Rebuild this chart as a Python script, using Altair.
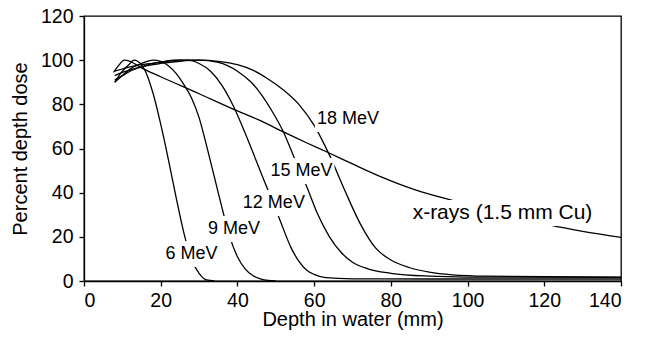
import altair as alt
import pandas as pd

# ---- data ----
xray_x = [7.7, 9, 10.5, 12, 15, 20, 30, 40, 46, 52, 58, 63.5, 70, 77, 86, 96, 110, 121.6, 130, 140]
xray_y = [94.5, 97.5, 100, 99.5, 96.5, 92.5, 84.8, 77, 72.6, 67.5, 62.6, 58.3, 53, 47.5, 41.5, 36.5, 30.5, 25.3, 22.5, 19.8]

e6_x = [8, 10, 12, 13, 14, 16, 18, 20, 22, 24, 26, 28, 30, 32, 34]
e6_y = [90, 95, 98.5, 100, 99.5, 95, 85, 71, 55, 38, 22, 10, 3.5, 0.5, 0.1]

e9_x = [8, 10, 12, 15, 18, 20, 22, 24, 26, 28, 30, 32, 34, 36, 38, 40, 42, 44, 46, 48, 50]
e9_y = [90, 93, 96, 98.5, 100, 99.5, 97.5, 94, 89, 83, 74, 61, 47, 33, 20, 11, 5.5, 2.5, 1, 0.3, 0.1]

e12_x = [8, 10, 12, 15, 18, 21, 24, 27, 30, 33, 36, 39, 42, 45, 48, 51, 54, 56, 58, 60, 63, 70, 90, 140]
e12_y = [91, 93, 95, 97, 98.5, 99.5, 100, 100, 98.5, 95, 88.5, 79, 67, 54, 41, 28, 15, 9, 5, 3, 1.5, 1, 0.9, 0.9]

e15_x = [8, 10, 12, 15, 20, 25, 30, 35, 40, 43.6, 46, 49, 52, 55, 58, 61, 64, 67, 70, 74, 80, 90, 100, 140]
e15_y = [93, 94.5, 95.5, 97, 98.5, 99.5, 100, 99, 95, 90, 85, 77, 67.5, 55, 43, 30, 20, 13, 8.5, 5.5, 3.5, 2.2, 1.8, 1.6]

e18_x = [8, 10, 12, 15, 20, 25, 30, 35, 40, 44, 48, 52, 56, 60, 64, 68, 72, 76, 80, 85, 90, 96, 105, 140]
e18_y = [95, 96, 97, 98, 99, 100, 100, 99.5, 98, 95.5, 91.5, 86.5, 80, 70.5, 57, 41, 26, 15, 9.5, 6, 4, 2.8, 2.2, 1.8]

mev_text = ["6 MeV", "9 MeV", "12 MeV", "15 MeV", "18 MeV"]
mev_x = [28.0, 39.1, 49.5, 56.7, 68.8]
mev_y = [12.2, 23.5, 35.3, 49.8, 73.4]

xray_text = ["x-rays (1.5 mm Cu)"]
xray_lx = [109.1]
xray_ly = [30.8]

x_ticks = [0, 20, 40, 60, 80, 100, 120, 140]
y_ticks = [0, 20, 40, 60, 80, 100, 120]

# ---- layout constants ----
FONT = "Liberation Sans"
W, H = 537, 265
XMAX, YMAX = 140, 120
MEV_FS = 18
XRAY_FS = 21
BOX_HALF_H = 13  # px

# Arial advance widths (em) for sizing the white boxes behind labels
ADV = {" ": .278, "-": .333, "(": .333, ")": .333, ".": .278, "1": .556, "2": .556,
       "5": .556, "6": .556, "8": .556, "9": .556, "M": .833, "e": .556, "V": .667,
       "x": .5, "r": .333, "a": .556, "y": .5, "s": .5, "m": .833, "C": .722, "u": .556}


def text_width(t, fs):
    return sum(ADV.get(c, .556) for c in t) * fs


def boxes(texts, xs, ys, fs):
    rows = []
    for t, a, b in zip(texts, xs, ys):
        hw = (text_width(t, fs) / 2 + 2) * XMAX / W
        hh = BOX_HALF_H * YMAX / H
        rows.append({"text": t, "depth": a, "dose": b,
                     "x0": a - hw, "x1": a + hw, "y0": b - hh, "y1": b + hh})
    return pd.DataFrame(rows)


# ---- build tables ----
series = {
    "x-rays": (xray_x, xray_y),
    "6 MeV": (e6_x, e6_y),
    "9 MeV": (e9_x, e9_y),
    "12 MeV": (e12_x, e12_y),
    "15 MeV": (e15_x, e15_y),
    "18 MeV": (e18_x, e18_y),
}
rows = []
for name, (xs, ys) in series.items():
    for i, (a, b) in enumerate(zip(xs, ys)):
        rows.append({"series": name, "order": i, "depth": a, "dose": b})
df = pd.DataFrame(rows)
mev = boxes(mev_text, mev_x, mev_y, MEV_FS)
xr = boxes(xray_text, xray_lx, xray_ly, XRAY_FS)

xscale = alt.Scale(domain=[0, XMAX], nice=False, zero=False)
yscale = alt.Scale(domain=[0, YMAX], nice=False)

lines = alt.Chart(df).mark_line(color="black", strokeWidth=1.3, interpolate="monotone").encode(
    x=alt.X("depth:Q", scale=xscale,
            axis=alt.Axis(title="Depth in water (mm)", values=x_ticks)),
    y=alt.Y("dose:Q", scale=yscale,
            axis=alt.Axis(title="Percent depth dose", values=y_ticks)),
    detail="series:N",
    order="order:Q",
)


def box_layer(d):
    return alt.Chart(d).mark_rect(color="white").encode(
        x=alt.X("x0:Q", scale=xscale), x2="x1:Q",
        y=alt.Y("y0:Q", scale=yscale), y2="y1:Q",
    )


def text_layer(d, fs):
    return alt.Chart(d).mark_text(
        font=FONT, fontSize=fs, color="black", baseline="middle", align="center"
    ).encode(x=alt.X("depth:Q", scale=xscale), y=alt.Y("dose:Q", scale=yscale), text="text:N")


chart = alt.layer(
    lines, box_layer(mev), box_layer(xr), text_layer(mev, MEV_FS), text_layer(xr, XRAY_FS)
).properties(
    width=W, height=H,
    autosize=alt.AutoSizeParams(type="none"),
    padding={"left": 76, "top": 8, "right": 17, "bottom": 52},
).configure_view(
    stroke="black", strokeWidth=1.3
).configure_axis(
    grid=False,
    domainColor="black", domainWidth=1.3,
    tickColor="black", tickSize=5, tickWidth=1.3,
    labelFont=FONT, labelFontSize=19.5, labelColor="black",
    titleFont=FONT, titleFontSize=20, titleFontWeight="normal", titleColor="black",
).configure_axisX(
    labelPadding=5, titlePadding=0
).configure_axisY(
    labelPadding=6, titlePadding=10
)

chart.save("out.html", embed_options={"renderer": "svg", "actions": False})
